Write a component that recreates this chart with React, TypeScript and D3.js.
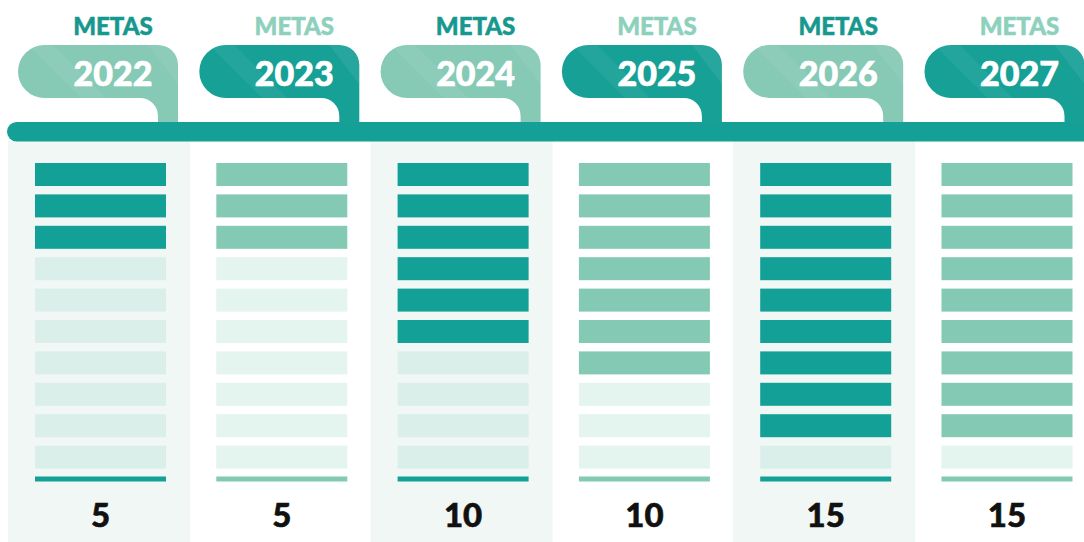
import * as d3 from "d3";

const years = ["2022", "2023", "2024", "2025", "2026", "2027"];
const metaValues = [5, 5, 10, 10, 15, 15];
const filledSlots = [3, 3, 6, 7, 9, 9];
const slotCount = 10;

const W = 1084;
const H = 542;

const DARK = "#13a096";
const LIGHT = "#83c9b4";
const FONT = "'Lato Black', Lato, 'Open Sans', sans-serif";

export default function App() {
  const x = d3.scaleBand<string>().domain(years).range([8, 8 + 6 * 181.3]).padding(0);
  const slots = d3.range(slotCount);
  const y = d3
    .scaleBand<number>()
    .domain(slots)
    .range([163, 163 + 9 * 31.4 + 23])
    .paddingInner(8.4 / 31.4)
    .paddingOuter(0);

  const tabPath = (x0: number) => {
    const L = x0 + 10;
    const R = L + 160;
    const top = 45;
    const bot = 98;
    const r = (bot - top) / 2;
    return [
      `M${L + r},${top}`,
      `H${R - 20}`,
      `A20,20 0 0 1 ${R},${top + 20}`,
      `V128`,
      `H${R - 20}`,
      `V${bot + 18}`,
      `A18,18 0 0 0 ${R - 38},${bot}`,
      `H${L + r}`,
      `A${r},${r} 0 0 1 ${L + r},${top}`,
      "Z",
    ].join(" ");
  };

  return (
    <svg width={W} height={H} style={{ position: "absolute", left: 0, top: 0, background: "#fff" }}>
      <defs>
        {years.map((yr) => (
          <clipPath id={`tab-${yr}`} key={yr}>
            <path d={tabPath(x(yr)!)} />
          </clipPath>
        ))}
      </defs>

      {/* column panels */}
      {years.map((yr, i) =>
        i % 2 === 0 ? (
          <rect key={yr} x={x(yr)!} y={141} width={182} height={H - 141} fill="#f0f7f5" />
        ) : null
      )}

      {/* tabs */}
      {years.map((yr, i) => {
        const x0 = x(yr)!;
        const dark = i % 2 === 1;
        return (
          <g key={yr}>
            <path d={tabPath(x0)} fill={dark ? "#17a096" : "#86c9b5"} />
            <g clipPath={`url(#tab-${yr})`}>
              <polygon
                points={`${x0 + 20},45 ${x0 + 45},45 ${x0 + 100},100 ${x0 + 75},100`}
                fill="#fff"
                opacity={0.06}
              />
              <polygon
                points={`${x0 + 140},45 ${x0 + 165},45 ${x0 + 230},130 ${x0 + 205},130`}
                fill="#fff"
                opacity={0.07}
              />
            </g>
            <text
              x={x0 + 105}
              y={35}
              textAnchor="middle"
              fontFamily={FONT}
              fontWeight={900}
              fontSize={24}
              fill={dark ? "#8dd1bd" : "#16988f"}
              stroke={dark ? "#8dd1bd" : "#16988f"}
              strokeWidth={0.5}
            >
              METAS
            </text>
            <text
              x={x0 + 105}
              y={86}
              textAnchor="middle"
              fontFamily={FONT}
              fontWeight={900}
              fontSize={34}
              fill="#fff"
              stroke="#fff"
              strokeWidth={0.7}
            >
              {yr}
            </text>
          </g>
        );
      })}

      {/* timeline */}
      <rect x={7} y={122} width={W + 20} height={19.5} rx={9.75} fill="#14a096" />

      {/* slot bars */}
      {years.map((yr, i) => {
        const bx = x(yr)! + 27;
        const dark = i % 2 === 0;
        const full = dark ? DARK : LIGHT;
        const empty = dark ? "#dbefea" : "#e4f4ee";
        return (
          <g key={yr}>
            {slots.map((s) => (
              <rect
                key={s}
                x={bx}
                y={y(s)!}
                width={131}
                height={y.bandwidth()}
                fill={s < filledSlots[i] ? full : empty}
              />
            ))}
            <rect x={bx} y={476.5} width={131} height={5} fill={full} />
            <text
              x={bx + 65.5}
              y={527}
              textAnchor="middle"
              fontFamily={FONT}
              fontWeight={900}
              fontSize={33}
              fill="#111"
              stroke="#111"
              strokeWidth={0.6}
            >
              {metaValues[i]}
            </text>
          </g>
        );
      })}
    </svg>
  );
}
